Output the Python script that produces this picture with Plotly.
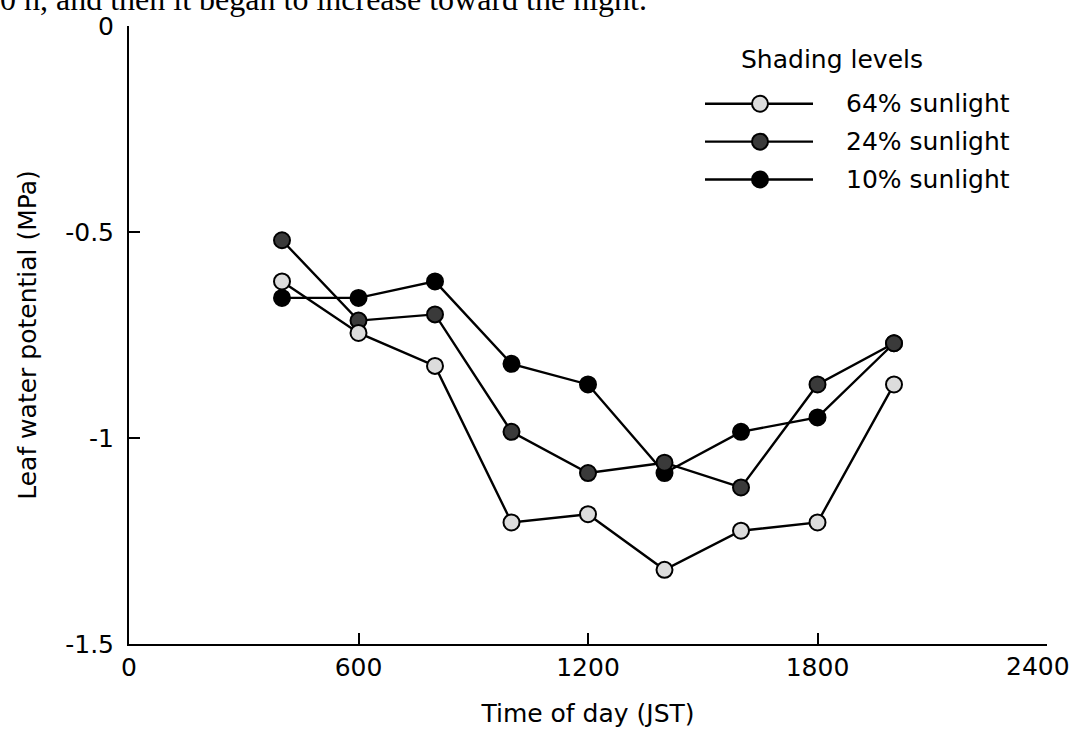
import plotly.graph_objects as go

# ---- data ----
times = [400, 600, 800, 1000, 1200, 1400, 1600, 1800, 2000]
sun64 = [-0.62, -0.745, -0.825, -1.205, -1.185, -1.32, -1.225, -1.205, -0.87]
sun24 = [-0.52, -0.715, -0.70, -0.985, -1.085, -1.06, -1.12, -0.87, -0.77]
sun10 = [-0.66, -0.66, -0.62, -0.82, -0.87, -1.085, -0.985, -0.95, -0.77]

series_names = ["64% sunlight", "24% sunlight", "10% sunlight"]
series_fill = ["#dcdcdc", "#3a3a3a", "#000000"]

x_ticks = [0, 600, 1200, 1800, 2400]
x_tick_text = ["0", "600", "1200", "1800", ""]
last_x_label = "2400"
y_ticks = [0, -0.5, -1, -1.5]
y_tick_text = ["0", "-0.5", "-1", "-1.5"]

FONT = "DejaVu Sans"
W, H = 1076, 736
L, R, T, B = 129, 29, 24, 92

fig = go.Figure()
# draw order: 10% first, then 24%, then 64% on top
for vals, name, fill in [(sun10, series_names[2], series_fill[2]),
                         (sun24, series_names[1], series_fill[1]),
                         (sun64, series_names[0], series_fill[0])]:
    fig.add_trace(go.Scatter(
        x=times, y=vals, mode="lines+markers", name=name, showlegend=False,
        line=dict(color="black", width=2.4),
        marker=dict(size=16, color=fill, line=dict(color="black", width=2)),
    ))

pw = W - L - R
ph = H - T - B
def px(xp):
    return (xp - L) / pw
def py(yp):
    return (H - B - yp) / ph

shapes = []
annotations = []
# legend (manual)
annotations.append(dict(text="Shading levels", x=px(739), y=py(58), xref="paper", yref="paper",
                        xanchor="left", yanchor="middle", showarrow=False,
                        font=dict(family=FONT, size=25, color="black")))
rows = [102, 140, 178]
for rowy, name, fill in zip(rows, series_names, series_fill):
    shapes.append(dict(type="line", xref="paper", yref="paper",
                       x0=px(705), x1=px(813), y0=py(rowy), y1=py(rowy),
                       line=dict(color="black", width=2.4)))
    shapes.append(dict(type="circle", xref="paper", yref="paper",
                       xsizemode="pixel", ysizemode="pixel",
                       xanchor=px(760), yanchor=py(rowy),
                       x0=-8, x1=8, y0=-8, y1=8,
                       fillcolor=fill, line=dict(color="black", width=2)))
    annotations.append(dict(text=name, x=px(844), y=py(rowy), xref="paper", yref="paper",
                            xanchor="left", yanchor="middle", showarrow=False,
                            font=dict(family=FONT, size=25, color="black")))

# last x tick label, nudged left so it stays inside the page
annotations.append(dict(text=last_x_label, x=x_ticks[-1], xref="x", y=0, yref="paper",
                        xanchor="center", yanchor="top", xshift=-9, yshift=-6,
                        showarrow=False, font=dict(family=FONT, size=25, color="black")))

# clipped caption line at top of page (as in the source page)
annotations.append(dict(text="0 h, and then it began to increase toward the night.",
                        x=px(-2), y=py(0), xref="paper", yref="paper",
                        xanchor="left", yanchor="middle", yshift=3, showarrow=False,
                        font=dict(family="Liberation Serif", size=32, color="black")))

fig.update_layout(
    width=W, height=H,
    margin=dict(l=L, r=R, t=T, b=B),
    paper_bgcolor="white", plot_bgcolor="white",
    font=dict(family=FONT, size=25, color="black"),
    shapes=shapes, annotations=annotations,
)
fig.update_xaxes(range=[0, 2400], tickvals=x_ticks, ticktext=x_tick_text, ticks="inside",
                 ticklen=11, tickwidth=1.5, tickcolor="black", showline=True,
                 linecolor="black", linewidth=2, showgrid=False, zeroline=False,
                 tickfont=dict(family=FONT, size=25), ticklabeloverflow="allow",
                 title=dict(text="Time of day (JST)", font=dict(family=FONT, size=25), standoff=23))
fig.update_yaxes(range=[-1.5, 0], tickvals=y_ticks, ticktext=y_tick_text, ticks="inside",
                 ticklen=11, tickwidth=1.5, tickcolor="black", showline=True,
                 linecolor="black", linewidth=2, showgrid=False, zeroline=False,
                 tickfont=dict(family=FONT, size=25), ticklabelstandoff=8,
                 title=dict(text="Leaf water potential (MPa)", font=dict(family=FONT, size=25), standoff=21))

fig.write_html("out.html")
